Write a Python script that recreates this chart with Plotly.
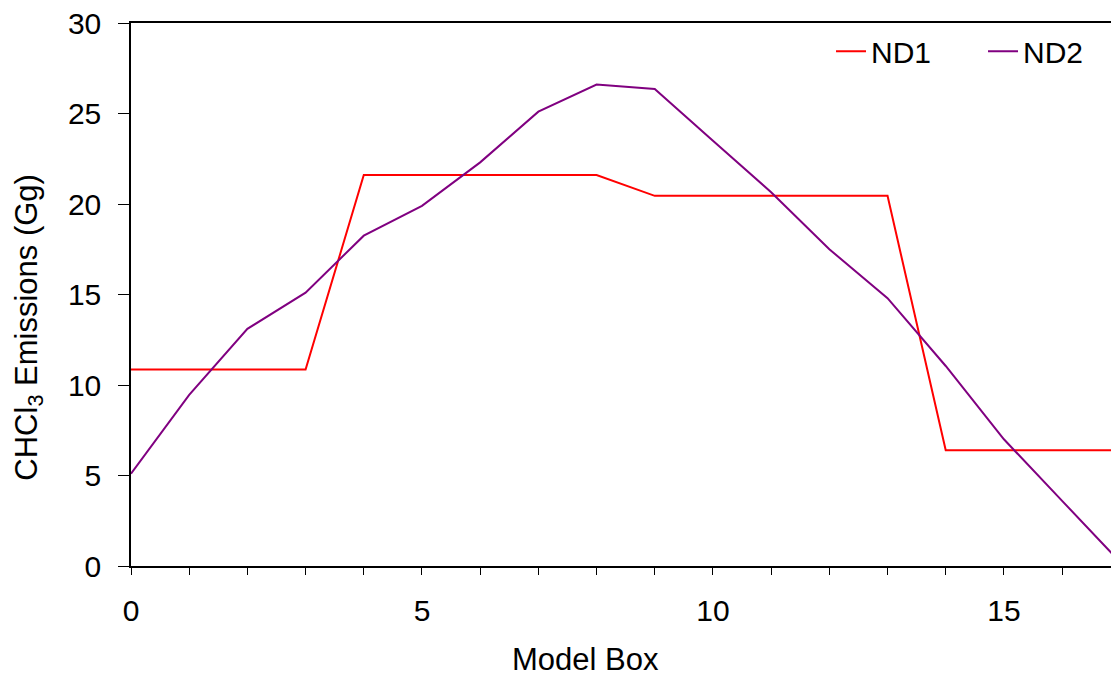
import plotly.graph_objects as go

model_box = list(range(18))
nd1 = [10.85, 10.85, 10.85, 10.85, 21.6, 21.6, 21.6, 21.6, 21.6,
       20.45, 20.45, 20.45, 20.45, 20.45, 6.4, 6.4, 6.4, 6.4]
nd2 = [5.1, 9.45, 13.1, 15.1, 18.25, 19.9, 22.3, 25.1, 26.6,
       26.35, 23.5, 20.65, 17.5, 14.8, 11.05, 7.0, 3.6, 0.2]
x_tickvals = list(range(18))
x_ticktext = [str(v) if v % 5 == 0 else "" for v in x_tickvals]
y_tickvals = [0, 5, 10, 15, 20, 25, 30]
x_title = "Model Box"
y_title = "CHCl<sub>3</sub> Emissions (Gg)"

fig = go.Figure()
fig.add_trace(go.Scatter(x=model_box, y=nd1, mode="lines", name="ND1",
                         line=dict(color="#FF0000", width=2), legend="legend"))
fig.add_trace(go.Scatter(x=model_box, y=nd2, mode="lines", name="ND2",
                         line=dict(color="#800080", width=2), legend="legend2"))

font = "Liberation Sans, Arial, sans-serif"
leg_common = dict(orientation="h", yanchor="top", y=0.996, xanchor="left",
                  font=dict(size=30), bgcolor="rgba(0,0,0,0)")
fig.update_layout(
    width=1111, height=678,
    margin=dict(l=131, r=0, t=23, b=112),
    paper_bgcolor="white", plot_bgcolor="white",
    font=dict(family=font, size=30, color="black"),
    showlegend=True,
    legend=dict(x=0.7143, **leg_common),
    legend2=dict(x=0.8694, **leg_common),
    xaxis=dict(range=[0, 16.84], tickvals=x_tickvals, ticktext=x_ticktext,
               ticks="outside", ticklen=7, tickwidth=1, tickcolor="black",
               showline=True, linecolor="black", linewidth=1.5, mirror=True,
               showgrid=False, zeroline=False, ticklabelstandoff=10,
               ticklabeloverflow="allow"),
    yaxis=dict(range=[0, 30], tickvals=y_tickvals,
               ticks="outside", ticklen=11, tickwidth=1, tickcolor="black",
               showline=True, linecolor="black", linewidth=1.5,
               showgrid=False, zeroline=False, ticklabelstandoff=11,
               ticklabeloverflow="allow"),
    annotations=[
        dict(text=x_title, xref="paper", yref="paper", x=0.464, y=-0.2055,
             xanchor="center", yanchor="bottom", showarrow=False, borderpad=0,
             font=dict(size=31)),
        dict(text=y_title, xref="paper", yref="paper", x=-0.1045, y=0.440,
             xanchor="center", yanchor="middle", showarrow=False,
             textangle=-90, font=dict(size=31)),
    ],
)

fig.write_html(
    "out.html",
    config={"displayModeBar": False},
    post_script="document.body.style.margin='0';document.body.style.overflow='hidden';",
)
